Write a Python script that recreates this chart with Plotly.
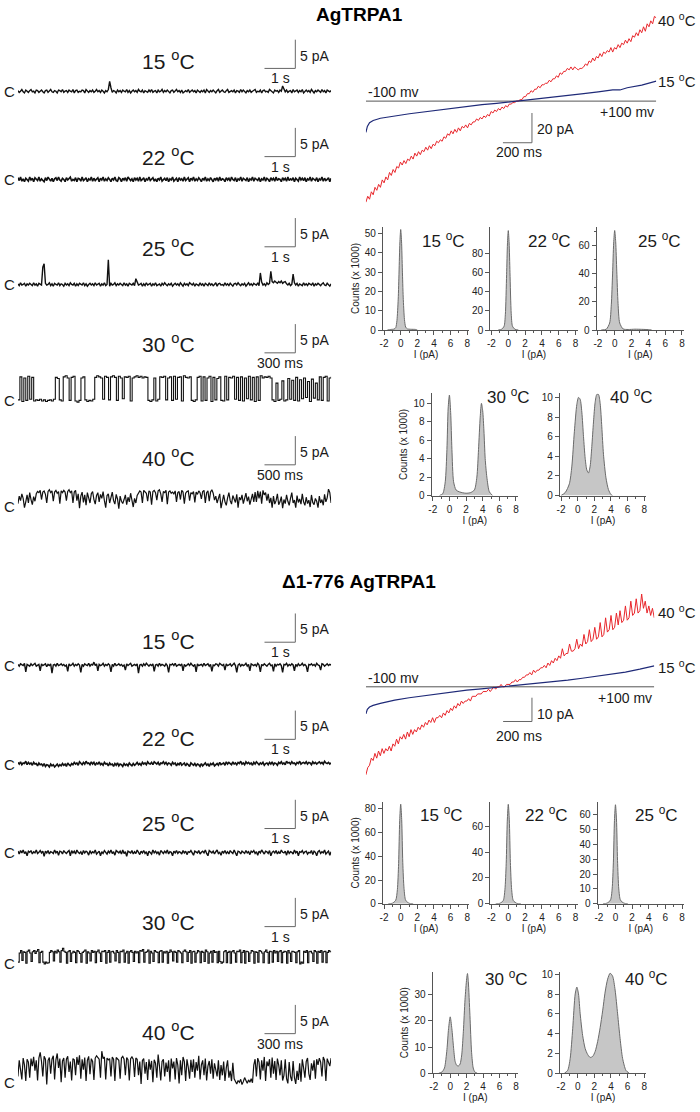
import numpy as np
import plotly.graph_objects as go

W, H = 700, 1112
FONT = "Liberation Sans, Arial, sans-serif"

# ---------------- single-channel traces (units of 0.1 pA, closed = 0) ----------------
a15 = [1, -2, 0, 3, -1, -3, 2, 0, -2, 1, 3, -1, 0, -3, 2, 1, -2, 0, 2, -1,
       -3, 1, 2, -2, 0, 3, -1, -2, 1, 0, -3, 2, 1, -1, 3, -2, 0, 1, -2, 2,
       0, -1, 3, -3, 1, 2, -2, 0, -1, 2, 1, -3, 3, 0, -2, 1, -1, 2, -2, 0,
       3, -1, 1, -2, 2, 0, -3, 1, -1, 3, 17, 6, -2, 1, 0, -3, 2, -1, 1, -2,
       2, 0, -1, 3, -2, 1, -3, 0, 2, -1, 1, -2, 3, 0, -1, 2, -3, 1, 0, -2,
       2, -1, 3, -2, 0, 1, -3, 2, -1, 0, 3, -2, 1, -1, 2, 0, -3, 1, 2, -2,
       0, 3, -1, 1, -2, 2, -3, 0, 1, -1, 3, -2, 0, 2, -1, 1, -3, 2, 0, -2,
       1, -1, 2, -3, 3, 0, -2, 1, -1, 2, 0, -3, 1, 3, -2, 0, 2, -1, -2, 1,
       3, -2, 0, 1, -1, 2, -3, 1, 0, -2, 3, -1, 2, 0, -3, 1, -1, 2, -2, 0,
       1, 3, -2, 0, -1, 2, -3, 1, 2, -1, 0, -2, 3, 1, -1, -3, 2, 0, 1, -2,
       2, 0, 9, 4, -1, 2, -2, 0, 1, -3, 3, -1, 0, 2, -2, 1, -1, 3, -3, 0,
       2, -1, 1, -2, 3, 0, -3, 1, -1, 2, 0, -2, 3, -1, 1, -3, 2, 0, -1, 1]
a22 = [3, -2, 4, -3, 1, -4, 2, 0, -3, 4, -1, 2, -4, 3, 0, -2, 4, -3, 1, -1,
       -4, 3, -2, 4, 0, -3, 2, -4, 1, 3, -2, 4, -1, -3, 2, 0, -4, 3, -1, 2,
       4, -3, 0, -2, 3, -4, 2, 1, -3, 4, -2, 0, 3, -4, 1, -1, 4, -3, 2, -2,
       0, 3, -4, 2, -1, 4, -3, 1, -2, 3, 0, -4, 2, -1, 4, -2, -3, 3, 1, -4,
       2, -1, 3, -3, 4, 0, -2, 1, -4, 3, -1, 2, -3, 4, -2, 0, 3, -4, 1, -1,
       4, -2, 0, 3, -3, 1, -4, 2, -1, 4, -3, 0, 2, -2, 3, -4, 1, -1, 4, -3,
       0, 2, -4, 3, -1, 1, -3, 4, -2, 0, 3, -4, 2, -1, 4, -3, 1, -2, 3, 0,
       -4, 2, -1, 4, -3, 1, -2, 3, 0, -4, 2, -1, 3, -3, 4, -2, 1, 0, -4, 3,
       -1, 2, -3, 4, 0, -2, 3, -4, 1, -1, 4, -3, 2, 0, -2, 3, -4, 1, -1, 4,
       -3, 2, 0, -2, 3, -4, 1, -1, 4, -3, 2, 0, -4, 3, -1, 2, -3, 4, -2, 1,
       0, -4, 3, -1, 2, -3, 4, -2, 1, -1, 3, -4, 2, 0, -3, 4, -1, 2, -2, 3,
       -4, 1, -1, 4, -3, 2, 0, -2, 3, -4, 1, -1, 4, -3, 2, -2, 0, 3, -4, 2]
a25 = [1, -2, 3, -1, 0, 2, -3, 1, -1, 2, 0, -2, 3, -1, 1, -3, 2, 0, -1, 30,
       36, 2, -1, 0, 3, -2, 1, -3, 2, 0, -1, 3, -2, 1, 0, -3, 2, -1, 1, -2,
       3, 0, -1, 2, -3, 1, -2, 2, 0, -1, 3, -2, 1, -3, 0, 2, -1, 1, -2, 3,
       -1, 0, 2, -3, 1, -1, 3, -2, 0, 43, -3, 2, -1, 0, 3, -2, 1, -1, 2, 0,
       -2, 3, -1, 1, -3, 2, 0, -1, 2, -2, 10, 3, -1, 0, 2, -3, 1, -2, 3, -1,
       0, 2, -3, 1, -1, 3, -2, 0, 1, -3, 2, -1, 3, 0, -2, 1, -1, 2, -3, 0,
       2, -1, 1, -2, 3, 0, -3, 2, -1, 1, -2, 3, 0, -1, 2, -3, 1, 0, -2, 3,
       -1, 1, -3, 2, 0, -2, 3, -1, 1, -2, 0, 3, -3, 1, 2, -1, 0, -2, 3, -1,
       1, -2, 2, 0, -3, 1, 2, -1, 3, 0, -2, 1, -1, 2, -3, 0, 3, -1, 1, -2,
       2, 0, -1, 3, -2, 20, 4, -1, 1, -2, 3, 0, 2, 23, 5, 3, 6, 4, 2, 5,
       3, 6, 2, 4, 5, 1, -1, 2, -2, 0, 18, 3, -1, 2, -3, 1, 0, -2, 3, -1,
       1, -2, 2, 0, -1, 3, -3, 1, -1, 2, 0, -2, 1, 3, -1, -2, 2, 0, -3, 1]
a30 = [1, 41, -2, 39, 0, 42, 2, 40, -1, 1,
       0, 2, -1, 1, -2, 0, 1, -1, 2,
       40, 38, 1, -1, 41, 43, 39, 0, 40, 42, -1, -3, 0, 39, 41, 1, -2, 0, -1, 2,
       40, 43, 41, 39, 2, 42, 40, 1, 41, 43, 40, 0, 42, 39, 3, 41, 40, 42, -1, 39, 41, 43, 40, 42, 39, 41, 40,
       0, -2, 1, 39, -1, 2,
       41, 40, 42, 1, 39, 41, 0, 42, 2, 40, 41, -1, 43, 40, 39, 41,
       0, -2, 1, 40, 42, -1,
       41, 0, 39, 42, -2, 40, 1, 38, 41, 0, -1, 42, 1, 40, 39,
       42, 2, 40, 0, 41, -1, 39, 3, 42, 1, 40, -2, 41, 0, 43, 39, 41,
       40, 42, 39, 1, -2, 30, 0, 2, 34, -1, 1,
       38, 2, 35, 0, 40, -1, 36, 3, 39, 5, 33, -2, 37, 4, 30, 1,
       41, 0, 40, 42, -1, 39, 41]
a40 = [5, 18, 10, 22, 14, -2, 8, 20, 6, 24, 12, 3, 17, 9, 22, 26, 24, 28, 12, 25,
       27, 21, 6, 26, 29, 24, 27, 9, 25, 28, 23, 26, 5, 27, 24, 28, 25, 10, 26, 29,
       24, 27, 6, 25, 28, 10, 22, -3, 18, 25, 7, 20, 2, 24, 15, 6, 22, 26, 12, 4,
       19, 24, 8, 21, 14, 26, 10, -2, 19, 22, 6, 17, 25, 10, 4, 21, 13, -4, 18, 9,
       5, 12, 20, 3, 16, 8, 23, 11, -1, 14, 6, 19, 24, 27, 25, 6, 28, 26, 23, 9,
       27, 25, 3, 26, 28, 24, 11, 27, 29, 22, 8, 26, 24, 28, 4, 25, 27, 23, 25, 22,
       27, 8, 24, 26, 12, 28, 25, 5, 23, 26, 27, 10, 24, 22, 26, 7, 25, 21, 27, 24,
       13, 26, 28, 6, 24, 27, 9, 25, 29, 23, 11, 18, 6, 14, 22, -3, 12, 20, 8, 2,
       15, 24, 10, 4, 19, 13, 7, 21, -2, 16, 11, 20, 5, 14, 23, 9, 17, 3, 12, 22,
       8, 25, 8, 27, 14, 26, 5, 28, 20, 24, 10, 22, 6, 15, -2, 18, 4, 10, 22, 3,
       8, 17, -3, 12, 5, 20, 9, 2, 14, 24, 6, 11, -2, 19, 7, 13, 4, 22, 8, 2,
       16, 5, 11, -1, 20, 7, 3, 14, 9, -2, 18, 6, 12, 2, 21, 8, 15, 30, 24, 6]
d15 = [1, -2, 2, 0, -1, 3, -12, 1, 0, -2, 2, -1, 1, 3, -2, 0, 1, -10, 2, -1,
       0, 2, -3, 1, -1, 2, -14, 0, 1, -2, 3, -1, 0, 2, -1, 1, -2, 0, -11, 2,
       -1, 0, 3, -2, 1, -1, 2, 0, -13, 1, -2, 2, 0, -1, 3, -2, 1, 0, 5, -1,
       2, -10, 1, -1, 0, 3, -2, 1, -1, 2, 0, -12, 1, -2, 3, -1, 0, 2, -1, 1,
       -2, 0, -9, 2, -1, 1, 3, -2, 0, 1, -1, 2, -14, 0, 1, -2, 2, -1, 3, 0,
       -2, 1, -1, 2, -11, 0, 1, -2, 3, -1, 1, 0, -2, 2, -1, -13, 1, 0, 2, -1,
       3, -2, 0, 1, -1, 2, -10, 1, -2, 0, 2, -1, 3, 0, -2, 1, -12, 2, -1, 0,
       1, -2, 3, -1, 0, 2, -2, 1, -11, 0, -1, 2, 1, -2, 3, 0, -1, 1, -9, 2,
       -1, 0, 2, -2, 1, 3, -1, -13, 0, 2, -2, 1, -1, 0, 3, -2, 1, -10, 2, 0,
       -1, 1, -2, 3, 0, -12, 1, -1, 2, 0, -2, 1, 3, -1, 0, -11, 2, -2, 1, 0,
       2, -1, -13, 1, 0, 3, -2, 1, -1, 2, 0, -10, 1, -2, 2, -1, 0, 3, -1, 1,
       -2, -12, 1, 0, 2, -1, 1, -2, 3, 0, -1, -9, 2, 1, -2, 0, 2, -1, 1, 0]
d22 = [3, 0, 4, -1, 2, 1, 5, -1, 3, 0, 2, -2, 3, 0, 1, -3, 2, -1, 0, -3,
       1, -4, -1, -2, -5, 0, -3, -1, -5, -2, 0, -4, -1, -3, 1, -2, 0, -4, 2, -1,
       -3, 1, -1, 3, 0, 2, -2, 4, 1, -1, 3, 0, 5, 1, 2, -1, 4, 0, 3, -2,
       2, 0, 4, -1, 1, -2, 3, 0, 1, -3, 2, -1, 0, -4, 1, -2, 2, -3, 0, -1,
       -4, 1, -2, 0, -3, 2, -1, -3, 1, -2, 0, 3, -1, 1, -2, 3, 0, 2, -1, 4,
       1, 0, 3, -1, 4, 2, 0, 3, -2, 2, 1, 4, 0, 3, -1, 2, 1, -2, 3, 0,
       2, -3, 1, -1, 3, -2, 0, 2, -3, 1, -1, -4, 2, 0, -2, 1, -3, 0, -1, -4,
       1, -3, -1, 2, -2, 0, -4, 1, -1, 2, -3, 0, 1, -2, 3, -1, 0, 2, -2, 4,
       0, 3, 1, -1, 4, 0, 2, -1, 3, 1, 5, 0, 2, -1, 4, 1, 3, 0, 2, -2,
       3, 0, 4, 1, -1, 2, 0, 3, -2, 1, 2, -1, 3, 0, 4, -1, 2, 1, -2, 3,
       1, 4, 0, 2, -1, 5, 2, 3, 0, 4, 1, 2, -1, 3, 1, 5, 0, 2, 3, 1,
       4, 0, 3, 2, -1, 4, 1, 3, 0, 2, 4, 1, 3, 0, 5, 2, 1, 3, 0, 2]
d25 = [2, -3, 3, -1, 4, -2, 1, -6, 2, 0, 3, -3, 1, -1, 4, -2, 0, 3, -1, 2,
       -7, 2, -1, 3, -3, 1, 0, -2, 4, -1, 2, -5, 2, 1, -3, 3, 0, -2, 1, 3,
       -6, 3, -1, 2, -3, 4, 0, -2, 1, -4, 3, -1, 2, 0, -5, 3, -2, 1, -1, 4,
       -3, 0, 2, -6, 1, -2, 3, 0, -3, 2, -1, 4, -2, 1, -5, 3, 0, -1, 2, -3,
       4, -2, 1, -7, 2, 0, -1, 3, -3, 1, -2, 4, 0, -4, 2, -1, 3, -2, 1, -6,
       2, 0, -3, 4, -1, 2, -2, 1, -5, 3, 0, -2, 2, -1, 4, -3, 1, 0, -6, 2,
       -1, 3, -2, 1, 0, -3, 3, -1, 2, -4, 1, 0, 3, -2, -5, 2, 1, -1, 3, -3,
       0, 2, -1, 4, -2, -6, 3, 0, -1, 2, -3, 1, 4, -2, 0, -5, 2, -1, 3, -2,
       1, -3, 3, 0, -2, 4, -1, -6, 2, 1, -3, 2, 0, -2, 3, -1, 1, -4, 2, 0,
       3, -2, 1, -5, 2, -1, 4, 0, -3, 2, 1, -2, 3, -6, 0, 2, -1, 3, -3, 1,
       -2, 4, 0, -1, 2, -5, 3, -2, 1, 0, -3, 4, -1, 2, -6, 1, 0, 3, -2, 1,
       2, -3, 0, -1, 3, -4, 2, 0, -6, 1, 3, -2, 1, -1, 4, -3, 0, 2, -5, 1]
d30 = [2, 18, 22, 5, 20, 19, 0, 21, 23, 18, 3, 20, 22, 17, 21, 24, 1, 19, 21, 2,
       -1, 2, 0, 1, 19, 22, 20, 4, 21, 18, 23, 20, 2, 22, 26, 21, 19, 0, 20, 22,
       3, 18, 21, 19, 1, 22, 20, 17, 2, 19, 21, 23, 0, 20, 18, 4, 22, 19, 21, 1,
       20, 23, 18, 3, 21, 20, 22, 0, 19, 22, 2, 20, 21, 18, 4, 22, 19, 1, 21, 20,
       23, 2, 18, 21, 0, 20, 22, 19, 3, 21, 18, 20, 1, 22, 21, 24, 2, 19, 20, 23,
       0, 21, 18, 3, 22, 20, 19, 1, 21, 22, 2, 20, 18, 21, 0, 19, 23, 20, 4, 21,
       19, 2, 22, 20, 18, 1, 21, 23, 20, 3, 19, 22, 0, 20, 21, 2, 18, 22, 20, 1,
       21, 19, 3, 23, 20, 0, 18, 21, 2, 22, 19, 20, 1, 21, 3, 0, 2, 20, 22, 1,
       19, 21, 0, 20, 22, 18, 2, 21, 20, 23, 1, 19, 22, 0, 21, 20, 3, 18, 22, 21,
       0, 20, 19, 2, 22, 21, 18, 1, 20, 23, 19, 0, 21, 20, 2, 22, 18, 21, 3, 20,
       22, 1, 19, 21, 20, 0, 22, 18, 3, 21, 20, 19, 1, 20, 22, -1, 2, 0, 21, 19,
       22, 1, 20, 21, 18, 3, 22, 20, 0, 21, 19, 22, 2, 20, 21, 1, 19, 22, 20, 21]
d40 = [10, 38, 22, 5, 42, 30, 2, 40, 35, 8, 41, 28, 44, 20, 38, 3, 42, 52, 36, 10,
       45, 40, -4, 38, 43, 15, 40, 46, 5, 39, 50, 25, 41, 0, 37, 42, 8, 40, 45, 18,
       36, 3, 41, 39, 12, 44, 30, 47, 6, 40, 22, 43, 2, 38, 45, 14, 41, 36, 4, 42,
       46, 42, 40, 8, 54, 41, 44, 5, 42, 39, 41, 10, 44, 40, 2, 43, 41, 38, 6, 42,
       45, 40, 12, 43, 39, 3, 41, 44, 40, 9, 42, 40, 12, 36, -3, 38, 41, 15, 35, 4,
       40, 22, 37, 0, 39, 33, 8, 48, 28, 3, 36, 40, 10, 34, 18, 38, 1, 41, 24, 36,
       5, 42, 30, -2, 38, 12, 44, 36, 2, 40, 26, 6, 39, 18, 40, 8, 35, 20, 46, 5,
       30, 38, 12, 41, 3, 28, 37, 15, 40, 6, 33, 22, 10, 38, 4, 30, 12, 36, 2, 25,
       38, 8, 20, 2, 34, 6, 2, -3, 3, 0, 5, -4, 1, 8, 3, -2, 4, 0, 6, -1,
       30, 40, 10, 42, 35, 5, 38, 20, 44, 2, 36, 28, 40, 8, 43, 15, 37, 4, 41, 30,
       12, 38, 3, 12, 40, 6, -2, 35, 10, 2, 37, 8, -3, 20, 4, 33, 1, 40, 25, 8,
       36, 42, 15, 4, 33, 20, 38, 6, 40, 30, 42, 35, 10, 44, 38, 2, 41, 36, 28, 42]

# ---------------- voltage-ramp currents (pA) over a 2000 ms ramp ----------------
ramp_ms = 2000
a_iv40 = [-68, -64, -66, -61, -63, -58, -60, -56, -58, -53, -55, -51, -53, -48, -50, -46, -48, -44, -45, -41,
          -43, -40, -42, -39, -40, -37, -39, -35, -37, -34, -36, -33, -34, -31, -33, -30, -32, -29, -30, -27,
          -28, -26, -27, -24, -25, -22, -23, -20, -22, -19, -21, -18, -20, -17, -18, -16, -18, -15, -16, -14,
          -14, -12, -13, -11, -12, -10, -11, -9, -10, -7, -8, -6, -7, -5, -6, -4, -5, -3, -4, -2,
          -2, -1, -1, 0, 0, 1, 1, 3, 3, 5, 5, 7, 6, 8, 8, 10, 9, 11, 11, 12,
          12, 14, 13, 15, 15, 17, 16, 19, 18, 20, 20, 22, 21, 23, 21, 23, 22, 21, 22, 22,
          23, 25, 24, 27, 26, 29, 27, 30, 29, 32, 30, 33, 32, 34, 33, 36, 33, 36, 35, 38,
          36, 39, 38, 41, 39, 42, 40, 44, 43, 46, 44, 48, 46, 50, 47, 52, 50, 54, 52, 57, 56]
a_iv15_t = [0, 10, 25, 50, 100, 150, 200, 300, 400, 500, 600, 700, 800, 900, 1000, 1100, 1200,
            1300, 1400, 1500, 1600, 1700, 1750, 1800, 1900, 2000]
a_iv15 = [-21, -17, -14.5, -13, -11.5, -10.5, -10, -8.5, -7.2, -6.2, -4.8, -3.6, -2.4, -1.5, -0.5, 0.5,
          1.5, 2.5, 3.8, 5, 6.2, 7.6, 7.5, 9, 10.8, 13.5]
d_iv40 = [-37, -34, -33, -30, -31, -28, -30, -27, -29, -26, -28, -26, -27, -25, -27, -24, -25, -22, -24, -21,
          -22, -20, -22, -19, -21, -18, -20, -18, -19, -17, -18, -16, -17, -15, -16, -14, -15, -13, -15, -13,
          -13, -12, -13, -11, -12, -10, -11, -9, -10, -8, -9, -7, -8, -6, -7, -6, -6, -5, -6, -4,
          -4, -4, -3, -3, -3, -2, -2, -2, -1, -2, -1, 0, -1, 0, 0, 1, 0, 0, 1, 1,
          1, 2, 2, 3, 2, 3, 3, 4, 4, 5, 5, 6, 5, 7, 6, 7, 7, 8, 8, 9,
          8, 10, 9, 11, 10, 12, 11, 13, 12, 16, 13, 14, 14, 18, 15, 15, 16, 20, 16, 18,
          17, 22, 18, 19, 24, 19, 20, 25, 20, 21, 27, 21, 22, 29, 23, 24, 30, 24, 25, 31,
          26, 32, 27, 28, 34, 28, 29, 36, 30, 31, 37, 31, 32, 39, 33, 36, 31, 34, 30, 33, 29]
d_iv15_t = [0, 10, 25, 50, 100, 200, 300, 400, 500, 600, 700, 800, 900, 1000, 1100, 1200, 1300,
            1400, 1500, 1600, 1700, 1800, 1900, 2000]
d_iv15 = [-11.4, -9.5, -8.5, -7.8, -7, -5.6, -4.6, -3.8, -2.9, -2.2, -1.4, -0.9, -0.3, 0.2, 0.8, 1.3,
          2.0, 2.8, 3.6, 4.4, 5.3, 6.2, 7.4, 8.8]

# ---------------- all-points histograms: I (pA) vs counts (x 1000) ----------------
hA15_x = [-1.6, -1.2, -0.8, -0.6, -0.45, -0.3, -0.2, -0.1, 0, 0.1, 0.2, 0.3, 0.45, 0.6, 0.8, 1.2, 1.8, 2.0]
hA15_y = [0, 0.3, 0.5, 1.2, 5, 16, 30, 45, 52, 46, 31, 17, 5.5, 1.5, 0.6, 0.4, 0.3, 0]
hA22_x = [-1.2, -0.8, -0.5, -0.35, -0.2, -0.1, 0, 0.1, 0.2, 0.35, 0.5, 0.8, 1.2]
hA22_y = [0, 0.8, 4, 16, 58, 90, 104, 91, 60, 17, 4, 0.8, 0]
hA25_x = [-1.6, -1.0, -0.6, -0.4, -0.25, -0.12, 0, 0.12, 0.25, 0.4, 0.6, 1.0, 1.6, 2.4, 3.2, 4.0, 4.4]
hA25_y = [0, 0.6, 5, 18, 40, 62, 71, 63, 42, 19, 5, 0.8, 0.4, 0.6, 0.5, 0.3, 0]
hA30_x = [-1.2, -0.8, -0.5, -0.3, -0.15, 0, 0.15, 0.3, 0.5, 0.8, 1.2, 1.6, 2.0, 2.5, 3.0, 3.3, 3.5,
          3.7, 3.85, 4.0, 4.15, 4.3, 4.5, 4.8, 5.2]
hA30_y = [0, 0.2, 1.5, 5, 9.5, 10.9, 9, 5, 1.5, 0.6, 0.4, 0.3, 0.25, 0.3, 0.6, 2, 5,
          8.5, 10, 9.2, 7, 4, 2, 0.4, 0]
hA40_x = [-2.0, -1.5, -1.0, -0.7, -0.4, -0.1, 0.1, 0.3, 0.5, 0.7, 0.9, 1.1, 1.3, 1.5, 1.7, 1.9, 2.1,
          2.3, 2.5, 2.7, 2.9, 3.1, 3.4, 3.7, 4.0, 4.2]
hA40_y = [0, 0.3, 1.2, 3, 6.5, 9.3, 10, 9.8, 8.5, 6, 3.8, 2.6, 2.3, 3, 5, 7.5, 9.5,
          10.3, 10.3, 9.4, 7, 4.2, 1.8, 0.6, 0.1, 0]
hD_x = [-1.5, -1.0, -0.6, -0.4, -0.25, -0.12, 0, 0.12, 0.25, 0.4, 0.6, 1.0, 1.5]
hD15_y = [0, 0.5, 3, 12, 34, 70, 84, 71, 35, 13, 3, 0.5, 0]
hD22_y = [0, 0.4, 2.5, 11, 31, 64, 77, 65, 32, 11, 2.5, 0.4, 0]
hD25_y = [0, 0.5, 2.5, 10, 28, 56, 66.5, 57, 29, 10, 2.5, 0.5, 0]
hD30_x = [-1.4, -1.0, -0.7, -0.4, -0.2, 0, 0.2, 0.4, 0.6, 0.8, 1.0, 1.2, 1.4, 1.6, 1.8, 2.0, 2.1,
          2.2, 2.4, 2.6, 2.8, 3.0, 3.3]
hD30_y = [0, 0.5, 2, 9, 17, 21.5, 17, 10, 4.5, 3, 2.8, 3.5, 7, 16, 28, 36, 38, 35, 22, 8, 2, 0.5, 0]
hD40_x = [-1.6, -1.2, -0.9, -0.6, -0.3, -0.1, 0.1, 0.3, 0.6, 0.9, 1.2, 1.5, 1.8, 2.1, 2.4, 2.7, 3.0,
          3.3, 3.6, 3.9, 4.2, 4.5, 4.8, 5.1, 5.4, 5.8, 6.2]
hD40_y = [0, 0.3, 1.5, 4.5, 8, 8.7, 8, 6, 3.8, 2.5, 1.9, 1.6, 1.7, 2.2, 3.2, 4.6, 6.3,
          8.2, 9.5, 10.1, 9.8, 8.4, 6, 3.5, 1.5, 0.3, 0]
hist_xticks = [-2, 0, 2, 4, 6, 8]

fig = go.Figure()
n_axes = 0


def add_axes(x0, x1, ytop, ybot, xr, yr, xs=None, ys=None):
    # panel box given in pixels of the 700x1112 page
    global n_axes
    n_axes += 1
    s = "" if n_axes == 1 else str(n_axes)
    xd = dict(domain=[x0 / W, x1 / W], range=xr, anchor="y" + s, fixedrange=True)
    yd = dict(domain=[1 - ybot / H, 1 - ytop / H], range=yr, anchor="x" + s, fixedrange=True)
    xd.update(xs or dict(visible=False))
    yd.update(ys or dict(visible=False))
    fig.update_layout({"xaxis" + s: xd, "yaxis" + s: yd})
    return "x" + s, "y" + s


def text(x, y, t, size, anchor="center", color="#1a1a1a"):
    fig.add_annotation(x=x / W, y=1 - y / H, xref="paper", yref="paper", text=t, showarrow=False,
                       xanchor=anchor, yanchor="middle", font=dict(family=FONT, size=size, color=color))


def bar(xa, ya, x0, x1, y0, y1):
    fig.add_shape(type="line", xref=xa, yref=ya, x0=x0, x1=x1, y0=y0, y1=y1,
                  line=dict(color="#666", width=1))


# ---------------- left: single-channel records ----------------
PXPA = 5.8   # pixels per pA
BARPX = 31   # pixels per time-bar


def record(vals, bar_s, bar_lbl, temp, base, bar_bot, lbl_y, shape="linear", lw=1.4):
    T = 315 / BARPX * bar_s
    top, bot = max(base - 90, 0), base + 18
    xa, ya = add_axes(15, 330, top, bot, [0, T], [-(bot - base) / PXPA, (base - top) / PXPA])
    fig.add_trace(go.Scatter(x=np.linspace(0, T, len(vals)), y=np.array(vals) / 10, xaxis=xa, yaxis=ya,
                             mode="lines", line=dict(color="#111", width=lw, shape=shape),
                             hoverinfo="skip", showlegend=False))
    t1 = (294 - 15) / BARPX * bar_s
    b0 = (base - bar_bot) / PXPA
    bar(xa, ya, t1, t1, b0, b0 + 5)
    bar(xa, ya, t1 - bar_s, t1, b0, b0)
    text(297, bar_bot - 13, "5 pA", 14, "left")
    text(279, bar_bot + 10, bar_lbl, 14)
    text(166, lbl_y, temp + " <sup>o</sup>C", 21)
    text(7, base, "C", 15)


record(a15, 1.0, "1 s", "15", 88, 65, 57)
record(a22, 1.0, "1 s", "22", 177, 154, 153, lw=1.6)
record(a25, 1.0, "1 s", "25", 283, 245, 245)
record(a30, 0.3, "300 ms", "30", 400, 352, 342, "hv", 1.1)
record(a40, 0.5, "500 ms", "40", 507, 465, 457, lw=1.2)
record(d15, 1.0, "1 s", "15", 667, 644, 642)
record(d22, 1.0, "1 s", "22", 767, 742, 740, lw=1.6)
record(d25, 1.0, "1 s", "25", 856, 832, 825)
record(d30, 1.0, "1 s", "30", 968, 931, 925, "hv", 1.1)
record(d40, 0.3, "300 ms", "40", 1088, 1039, 1036, lw=1.2)


# ---------------- right: ramp I-V ----------------
def ramp(x0, x1, ytop, ybot, base, ppa, red, blue_t, blue, bar_pa, bar_top, lbl40_y, lbl15_y):
    xa, ya = add_axes(x0, x1, ytop, ybot, [0, ramp_ms], [-(ybot - base) / ppa, (base - ytop) / ppa])
    fig.add_shape(type="line", xref=xa, yref=ya, x0=0, x1=ramp_ms, y0=0, y1=0, layer="below",
                  line=dict(color="#555", width=1))
    fig.add_trace(go.Scatter(x=np.linspace(0, ramp_ms, len(red)), y=red, xaxis=xa, yaxis=ya, mode="lines",
                             line=dict(color="#e8262b", width=1), hoverinfo="skip", showlegend=False))
    fig.add_trace(go.Scatter(x=blue_t, y=blue, xaxis=xa, yaxis=ya, mode="lines",
                             line=dict(color="#1f2a78", width=1.2), hoverinfo="skip", showlegend=False))
    tb = (532 - x0) / (x1 - x0) * ramp_ms
    yb = (base - bar_top) / ppa
    bar(xa, ya, tb, tb, yb - bar_pa, yb)
    bar(xa, ya, tb - 200, tb, yb - bar_pa, yb - bar_pa)
    text(535, bar_top + 16, "%d pA" % bar_pa, 14, "left")
    text(519, bar_top + 39, "200 ms", 14)
    text(x0, base - 9, "-100 mv", 14, "left")
    text(x1, base + 11, "+100 mv", 14, "right")
    text(699, lbl40_y, "40 <sup>o</sup>C", 15, "right")
    text(699, lbl15_y, "15 <sup>o</sup>C", 15, "right")


ramp(365, 657, 3, 215, 98, 1.5, a_iv40, a_iv15_t, a_iv15, 20, 110, 16, 77)
ramp(365, 655, 592, 790, 689, 2.4, d_iv40, d_iv15_t, d_iv15, 10, 700, 613, 669)

# ---------------- right: histograms ----------------
AX = dict(visible=True, showline=True, linecolor="#555", linewidth=1, ticks="outside", ticklen=4,
          tickwidth=1, tickcolor="#555", showgrid=False, zeroline=False,
          tickfont=dict(family=FONT, size=10, color="#222"))


def hist(x0, x1, ytop, ybot, ymax, xs, ys, yticks, minor, temp, lx, ly, ytitle=False):
    xst = dict(AX, tickvals=hist_xticks, ticktext=[str(v) for v in hist_xticks],
               minor=dict(ticks="outside", ticklen=2, dtick=1, tickcolor="#555"),
               title=dict(text="I (pA)", font=dict(family=FONT, size=10, color="#222"), standoff=2))
    yst = dict(AX, tickvals=yticks, ticktext=[str(v) for v in yticks])
    if minor:
        yst["minor"] = dict(ticks="outside", ticklen=2, dtick=minor, tickcolor="#555")
    if ytitle:
        yst["title"] = dict(text="Counts (x 1000)", font=dict(family=FONT, size=10, color="#222"), standoff=3)
    xa, ya = add_axes(x0, x1, ytop, ybot, [-2.15, 8.25], [0, ymax], xst, yst)
    fig.add_trace(go.Scatter(x=xs, y=ys, xaxis=xa, yaxis=ya, mode="lines", fill="tozeroy",
                             fillcolor="#c6c6c6", line=dict(color="#6a6a6a", width=1, shape="spline", smoothing=0.7),
                             hoverinfo="skip", showlegend=False))
    text(lx, ly, temp + " <sup>o</sup>C", 17)


hist(382, 469, 225, 329, 53.3, hA15_x, hA15_y, [0, 10, 20, 30, 40, 50], None, "15", 443, 238, True)
hist(490, 578, 225, 329, 107.8, hA22_x, hA22_y, [0, 20, 40, 60, 80], None, "22", 550, 238)
hist(597, 685, 225, 329, 73.5, hA25_x, hA25_y, [0, 20, 40, 60], 10, "25", 660, 238)
hist(431, 518, 393, 496, 11.07, hA30_x, hA30_y, [0, 2, 4, 6, 8, 10], None, "30", 508, 396, True)
hist(560, 647, 393, 496, 10.4, hA40_x, hA40_y, [0, 2, 4, 6, 8, 10], None, "40", 632, 396)
hist(382, 469, 805, 908, 86, hD_x, hD15_y, [0, 20, 40, 60, 80], None, "15", 441, 817, True)
hist(490, 578, 805, 908, 79, hD_x, hD22_y, [0, 20, 40, 60], None, "22", 547, 817)
hist(598, 685, 805, 908, 68.5, hD_x, hD25_y, [0, 10, 20, 30, 40, 50, 60], None, "25", 657, 817)
hist(432, 518, 977, 1079, 38.5, hD30_x, hD30_y, [0, 10, 20, 30], None, "30", 506, 983, True)
hist(560, 647, 977, 1079, 10.2, hD40_x, hD40_y, [0, 2, 4, 6, 8, 10], None, "40", 647, 983)

# ---------------- titles ----------------
text(359, 11, "<b>AgTRPA1</b>", 19, color="#000")
text(358, 583, "<b>\u03941-776 AgTRPA1</b>", 19, color="#000")

fig.update_layout(width=W, height=H, margin=dict(l=0, r=0, t=0, b=0), autosize=False,
                  paper_bgcolor="white", plot_bgcolor="rgba(0,0,0,0)", showlegend=False,
                  font=dict(family=FONT))

fig.write_html("out.html", config={"displayModeBar": False},
               post_script="document.body.style.margin='0px';document.body.style.padding='0px';")
